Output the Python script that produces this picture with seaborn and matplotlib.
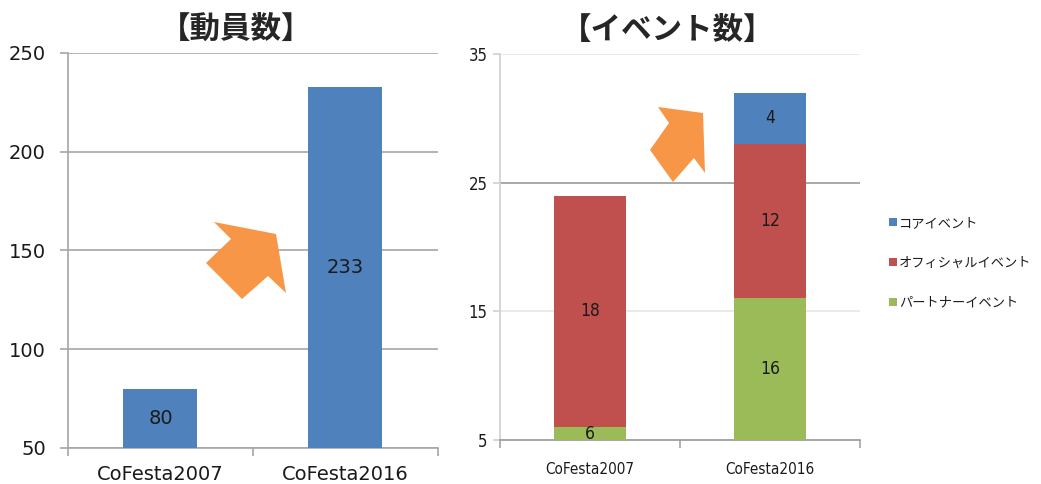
import matplotlib
matplotlib.use("Agg")
import matplotlib.pyplot as plt
import seaborn as sns
import pandas as pd
from matplotlib.patches import Polygon, Patch
from matplotlib.ticker import FixedLocator
from matplotlib import font_manager

# ========== Data ==========
festivals = ["CoFesta2007", "CoFesta2016"]
visitors = [80, 233]

series_names = ["コアイベント", "オフィシャルイベント", "パートナーイベント"]
core_events = [0, 4]
official_events = [18, 12]
partner_events = [6, 16]

BLUE, RED, GREEN, ORANGE = "#4F81BD", "#C0504D", "#9BBB59", "#F79646"

sns.set_theme(style="white")
plt.rcParams["font.family"] = ["DejaVu Sans", "Noto Sans CJK JP"]
cjk = ["Noto Sans CJK JP", "DejaVu Sans"]

# narrow font for the right chart if one is available
narrow_fp = None
for f in font_manager.fontManager.ttflist:
    if "Narrow" in f.name or "Condensed" in f.fname:
        if "Bold" not in f.fname and "Oblique" not in f.fname and "Italic" not in f.fname:
            narrow_fp = f.fname
            break


def narrow(size):
    if narrow_fp:
        return font_manager.FontProperties(fname=narrow_fp, size=size)
    return font_manager.FontProperties(family="DejaVu Sans", size=size)


fig = plt.figure(figsize=(10.41, 4.84), dpi=100)
ax1 = fig.add_axes([0.0653, 0.0744, 0.3554, 0.8161])
ax2 = fig.add_axes([0.4803, 0.0909, 0.3458, 0.7975])

# ========== Left: visitors ==========
df1 = pd.DataFrame({"festival": festivals, "visitors": visitors})
sns.barplot(data=df1, x="festival", y="visitors", color=BLUE, saturation=1,
            width=0.4, ax=ax1, zorder=3, edgecolor="none", linewidth=0)
ax1.set_ylim(50, 250)
ax1.set_xlim(-0.5, 1.5)
ax1.set_yticks([50, 100, 150, 200, 250])
ax1.yaxis.grid(True, color="#a6a6a6", linewidth=1.2)
ax1.set_axisbelow(True)
lo = ax1.get_ylim()[0]
for i, v in enumerate(visitors):
    ax1.text(i, (lo + v) / 2, str(v), ha="center", va="center", fontsize=14,
             color="#1a1a1a", zorder=4)
ax1.set_xlabel("")
ax1.set_ylabel("")
ax1.set_title("【動員数】", family=cjk, fontsize=22, fontweight="bold",
              x=0.454, pad=11)
ax1.tick_params(axis="y", labelsize=14, length=6, color="#a6a6a6", width=1.2,
                pad=10, labelcolor="#1a1a1a", left=True)
ax1.tick_params(axis="x", which="major", length=0, labelsize=14, pad=12,
                labelcolor="#1a1a1a")
ax1.xaxis.set_minor_locator(FixedLocator([-0.5, 0.5, 1.5]))
ax1.tick_params(axis="x", which="minor", bottom=True, length=6, width=1.2,
                color="#a6a6a6")
for s in ["top", "right"]:
    ax1.spines[s].set_visible(False)
ax1.spines["left"].set_color("#a6a6a6")
ax1.spines["bottom"].set_color("#a6a6a6")
ax1.spines["left"].set_linewidth(1.2)
ax1.spines["bottom"].set_linewidth(1.2)

# ========== Right: events (stacked) ==========
totals_mid = [p + o for p, o in zip(partner_events, official_events)]
totals_top = [m + c for m, c in zip(totals_mid, core_events)]
layers = [(totals_top, BLUE), (totals_mid, RED), (partner_events, GREEN)]
for vals, col in layers:
    d = pd.DataFrame({"festival": festivals, "value": vals})
    sns.barplot(data=d, x="festival", y="value", color=col, saturation=1,
                width=0.4, ax=ax2, zorder=3, edgecolor="none", linewidth=0)
ax2.set_ylim(5, 35)
ax2.set_xlim(-0.5, 1.5)
ax2.set_yticks([5, 15, 25, 35])
ax2.yaxis.grid(True, color="#e6e6e6", linewidth=1.2)
ax2.set_axisbelow(True)
fig.canvas.draw()
ax2.yaxis.get_gridlines()[2].set_color("#9a9a9a")

lo2 = ax2.get_ylim()[0]
for i in range(len(festivals)):
    bottom = 0
    for seg in [partner_events[i], official_events[i], core_events[i]]:
        if seg > 0:
            vis_lo = max(bottom, lo2)
            ax2.text(i, (vis_lo + bottom + seg) / 2, str(seg), ha="center",
                     va="center", color="#1a1a1a", zorder=4,
                     fontproperties=narrow(12.5))
        bottom += seg
ax2.set_xlabel("")
ax2.set_ylabel("")
ax2.set_title("【イベント数】", family=cjk, fontsize=22, fontweight="bold",
              x=0.465, pad=11)
ax2.tick_params(axis="y", length=5, color="#d0d0d0", width=1.2,
                pad=4, labelcolor="#1a1a1a", left=True)
ax2.tick_params(axis="x", which="major", length=0, pad=16,
                labelcolor="#1a1a1a")
for lab in ax2.get_yticklabels():
    lab.set_fontproperties(narrow(12))
for lab in ax2.get_xticklabels():
    lab.set_fontproperties(narrow(11))
ax2.xaxis.set_minor_locator(FixedLocator([-0.5, 0.5, 1.5]))
ax2.tick_params(axis="x", which="minor", bottom=True, length=6, width=1.2,
                color="#a6a6a6")
for s in ["top", "right"]:
    ax2.spines[s].set_visible(False)
ax2.spines["left"].set_color("#d0d0d0")
ax2.spines["bottom"].set_color("#9a9a9a")
ax2.spines["left"].set_linewidth(1.2)
ax2.spines["bottom"].set_linewidth(1.2)

handles = [Patch(facecolor=c, edgecolor="none") for c in [BLUE, RED, GREEN]]
fig.legend(handles, series_names, loc="upper left",
           bbox_to_anchor=(0.843, 0.577), frameon=False,
           prop={"family": "Noto Sans CJK JP", "size": 9.5},
           handlelength=0.6, handleheight=0.6, handletextpad=0.15,
           labelspacing=2.05, labelcolor="#1a1a1a")

# ========== Decorative arrows (figure pixel coords) ==========
def px(points):
    return [(x / 1041, 1 - y / 484) for x, y in points]

arrow_left = [(214, 222), (276, 234), (286, 293), (268, 276), (242, 299),
              (206, 263), (231, 239)]
arrow_right = [(658, 107), (703, 113), (705, 173), (694, 158), (673, 182),
               (650, 150), (669, 123)]
for pts in [arrow_left, arrow_right]:
    fig.add_artist(Polygon(px(pts), closed=True, facecolor=ORANGE,
                           edgecolor="none", transform=fig.transFigure,
                           zorder=10))

fig.savefig("out.png", dpi=100)
